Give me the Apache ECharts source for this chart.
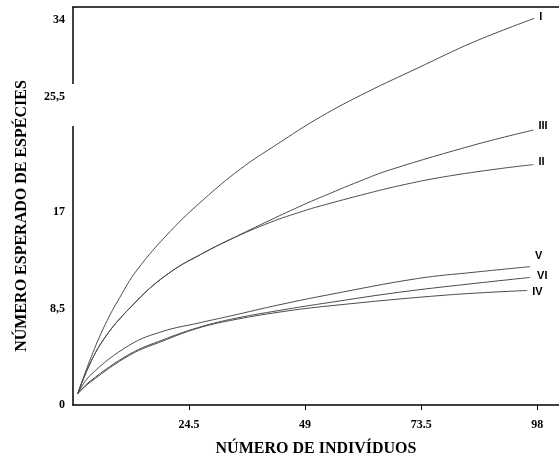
<!DOCTYPE html>
<html><head><meta charset="utf-8">
<script src="https://cdn.jsdelivr.net/npm/echarts@6/dist/echarts.min.js"></script>
<style>html,body{margin:0;padding:0;background:#fff}#c{width:559px;height:462px}</style>
</head><body><div id="c"></div>
<script>
// tick values and labels
const xTickValues = [24.5, 49, 73.5, 98];
const xTickLabels = ['24.5', '49', '73.5', '98'];
const yTickValues = [0, 8.5, 17, 25.5, 34];
const yTickLabels = ['0', '8,5', '17', '25,5', '34'];

// curve names
const curveNames = ['I', 'II', 'III', 'IV', 'V', 'VI'];

// curve I
const xI = [1, 3.8, 6.8, 9.9, 13.5, 20.5, 27.5, 35.3, 43.1, 52.2, 62.1, 72.7, 84.5, 97.4];
const yI = [1, 4.2, 7.1, 9.5, 11.9, 15.3, 18.1, 20.8, 23.0, 25.4, 27.6, 29.7, 32.0, 34.1];
// curve II
const xII = [1, 5.7, 13.5, 20.5, 27.5, 33.2, 41.6, 48.6, 52.2, 62.1, 69, 78, 90.2, 97.2];
const yII = [1, 5.3, 9.2, 11.7, 13.4, 14.6, 16.1, 17.1, 17.55, 18.65, 19.35, 20.1, 20.85, 21.2];
// curve III
const xIII = [1, 5.7, 13.5, 20.5, 27.5, 33.2, 41.6, 48.6, 52.2, 60.6, 67, 85.3, 97.2];
const yIII = [1, 5.3, 9.2, 11.7, 13.4, 14.6, 16.3, 17.65, 18.3, 19.75, 20.75, 23.0, 24.25];
// curve IV
const xIV = [1, 3.6, 12, 19, 26.2, 33.2, 43.7, 54.3, 79, 95.9];
const yIV = [1, 2.0, 4.4, 5.65, 6.75, 7.45, 8.2, 8.75, 9.7, 10.1];
// curve V
const xV = [1, 3.6, 12, 19, 26.2, 33.2, 43.7, 54.3, 72.7, 84.5, 96.5];
const yV = [1, 2.6, 5.3, 6.5, 7.2, 7.85, 8.85, 9.75, 11.15, 11.7, 12.2];
// curve VI
const xVI = [1, 3.6, 12, 19, 26.2, 33.2, 43.7, 54.3, 69, 83.2, 96.5];
const yVI = [1, 2.1, 4.5, 5.75, 6.8, 7.55, 8.35, 9.05, 9.95, 10.65, 11.25];

const curveX = [xI, xII, xIII, xIV, xV, xVI];
const curveY = [yI, yII, yIII, yIV, yV, yVI];
const labelOffsets = {I: [0, -1], II: [0, -3], III: [0, -4], IV: [0, 1], V: [0, -11], VI: [2, -1]};

function pairs(xs, ys) { return xs.map((x, i) => [x, ys[i]]); }
function lookup(vals, labels, v) {
  for (let i = 0; i < vals.length; i++) if (Math.abs(vals[i] - v) < 1e-6) return labels[i];
  return '';
}

const serif = '"Liberation Serif", "Times New Roman", serif';
const sans = '"Liberation Sans", Arial, sans-serif';

const chart = echarts.init(document.getElementById('c'), null, {renderer: 'canvas'});
chart.setOption({
  animation: false,
  backgroundColor: '#fff',
  grid: {left: 73, right: 0, top: 7, bottom: 55},
  xAxis: [{
    type: 'value', min: 0, max: 102.6, interval: 24.5,
    axisLine: {show: true, lineStyle: {color: '#000', width: 1.5}},
    axisTick: {show: true, length: 5, lineStyle: {color: '#000', width: 1}},
    splitLine: {show: false},
    axisLabel: {
      showMinLabel: false, showMaxLabel: false, margin: 14,
      color: '#000', fontFamily: serif, fontWeight: 'bold', fontSize: 12,
      formatter: v => lookup(xTickValues, xTickLabels, v)
    },
    name: 'NÚMERO DE INDIVÍDUOS', nameLocation: 'middle', nameGap: 36,
    nameTextStyle: {color: '#000', fontFamily: serif, fontWeight: 'bold', fontSize: 16}
  }, {
    type: 'value', position: 'top', min: 0, max: 102.6,
    axisLine: {show: true, lineStyle: {color: '#000', width: 1.5}},
    axisTick: {show: false}, axisLabel: {show: false}, splitLine: {show: false}
  }],
  yAxis: {
    type: 'value', min: 0, max: 35.1, interval: 8.5,
    axisLine: {show: true, lineStyle: {color: '#000', width: 1.5}},
    axisTick: {show: false},
    splitLine: {show: false},
    axisLabel: {
      showMaxLabel: false, margin: 8,
      color: '#000', fontFamily: serif, fontWeight: 'bold', fontSize: 12,
      formatter: v => {
        const t = lookup(yTickValues, yTickLabels, v);
        return Math.abs(v - 25.5) < 1e-6 ? '{up|' + t + '}' : t;
      },
      rich: {up: {color: '#000', fontFamily: serif, fontWeight: 'bold', fontSize: 12, padding: [0, 0, 38, 0]}}
    },
    name: 'NÚMERO ESPERADO DE ESPÉCIES', nameLocation: 'middle', nameGap: 43,
    nameTextStyle: {color: '#000', fontFamily: serif, fontWeight: 'bold', fontSize: 16, padding: [0, 20, 0, 0]}
  },
  graphic: [{
    type: 'rect', shape: {x: 71, y: 84, width: 4, height: 42},
    style: {fill: '#fff'}, z: 100
  }],
  series: curveNames.map((n, i) => ({
    name: n, type: 'line', xAxisIndex: 0,
    data: pairs(curveX[i], curveY[i]),
    smooth: 0.4, showSymbol: false,
    lineStyle: {color: '#4d4d4d', width: 1},
    endLabel: {
      show: true, formatter: n, offset: labelOffsets[n], distance: 5,
      color: '#000', fontFamily: sans, fontWeight: 'bold', fontSize: 11
    }
  }))
});
</script>
</body></html>
